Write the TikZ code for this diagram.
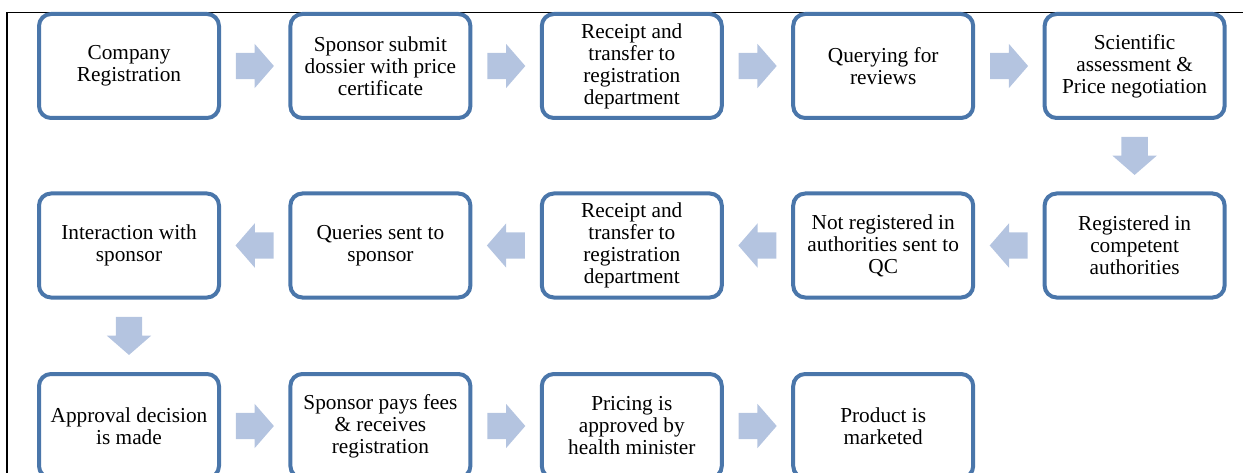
\documentclass[tikz,border=0pt]{standalone}
\usepackage{fontspec}
\setmainfont{Liberation Serif}
\usetikzlibrary{shapes.arrows,calc}
\definecolor{boxblue}{RGB}{74,118,170}
\definecolor{arrowblue}{RGB}{180,196,224}

\begin{document}
\begin{tikzpicture}[x=1pt, y=-1pt, font=\fontsize{21.3}{22}\selectfont,
	stepbox/.style={draw=boxblue, line width=4pt, rounded corners=12pt, fill=white,
		minimum width=180pt, minimum height=104pt, align=center, inner sep=0pt},
	blockarrow/.style={shape=single arrow, fill=arrowblue, inner xsep=0pt, inner ysep=13pt,
		minimum height=38pt, single arrow head extend=9pt, single arrow head indent=0pt,
		single arrow tip angle=98, anchor=tail}]
	\def\dx{251.4} % khoảng cách cột
	\def\ya{66} \def\yb{245.5} \def\yc{426} % tâm các hàng
	\def\l{19} % nửa chiều dài mũi tên
	\useasboundingbox (0,0) rectangle (1245,473);
	\clip (0,0) rectangle (1245,473);
	\draw[line width=1.3pt] (7,473)--(7,12.5)--(1243,12.5);
	% hàng 1
	\node[stepbox] (n1) at (129,\ya) {Company\\Registration};
	\node[stepbox] (n2) at (129+\dx,\ya) {Sponsor submit\\dossier with price\\certificate};
	\node[stepbox] (n3) at (129+2*\dx,\ya) {Receipt and\\transfer to\\registration\\department};
	\node[stepbox] (n4) at (129+3*\dx,\ya) {Querying for\\reviews};
	\node[stepbox] (n5) at (129+4*\dx,\ya) {Scientific\\assessment \&\\Price negotiation};
	% hàng 2
	\node[stepbox] (n6) at (129+4*\dx,\yb) {Registered in\\competent\\authorities};
	\node[stepbox] (n7) at (129+3*\dx,\yb) {Not registered in\\authorities sent to\\QC};
	\node[stepbox] (n8) at (129+2*\dx,\yb) {Receipt and\\transfer to\\registration\\department};
	\node[stepbox] (n9) at (129+\dx,\yb) {Queries sent to\\sponsor};
	\node[stepbox] (n10) at (129,\yb) {Interaction with\\sponsor};
	% hàng 3
	\node[stepbox] (n11) at (129,\yc) {Approval decision\\is made};
	\node[stepbox] (n12) at (129+\dx,\yc) {Sponsor pays fees\\\& receives\\registration};
	\node[stepbox] (n13) at (129+2*\dx,\yc) {Pricing is\\approved by\\health minister};
	\node[stepbox] (n14) at (129+3*\dx,\yc) {Product is\\marketed};
	% mũi tên
	\foreach \a/\b in {n1/n2,n2/n3,n3/n4,n4/n5,n11/n12,n12/n13,n13/n14}
		\node[blockarrow] at ($(\a.east)!.5!(\b.west)+(-\l,0)$) {};
	\foreach \a/\b in {n6/n7,n7/n8,n8/n9,n9/n10}
		\node[blockarrow, rotate=180] at ($(\a.west)!.5!(\b.east)+(\l,0)$) {};
	\foreach \a/\b in {n5/n6,n10/n11}
		\node[blockarrow, rotate=-90] at ($(\a.south)!.5!(\b.north)+(0,-\l)$) {};
\end{tikzpicture}
\end{document}
